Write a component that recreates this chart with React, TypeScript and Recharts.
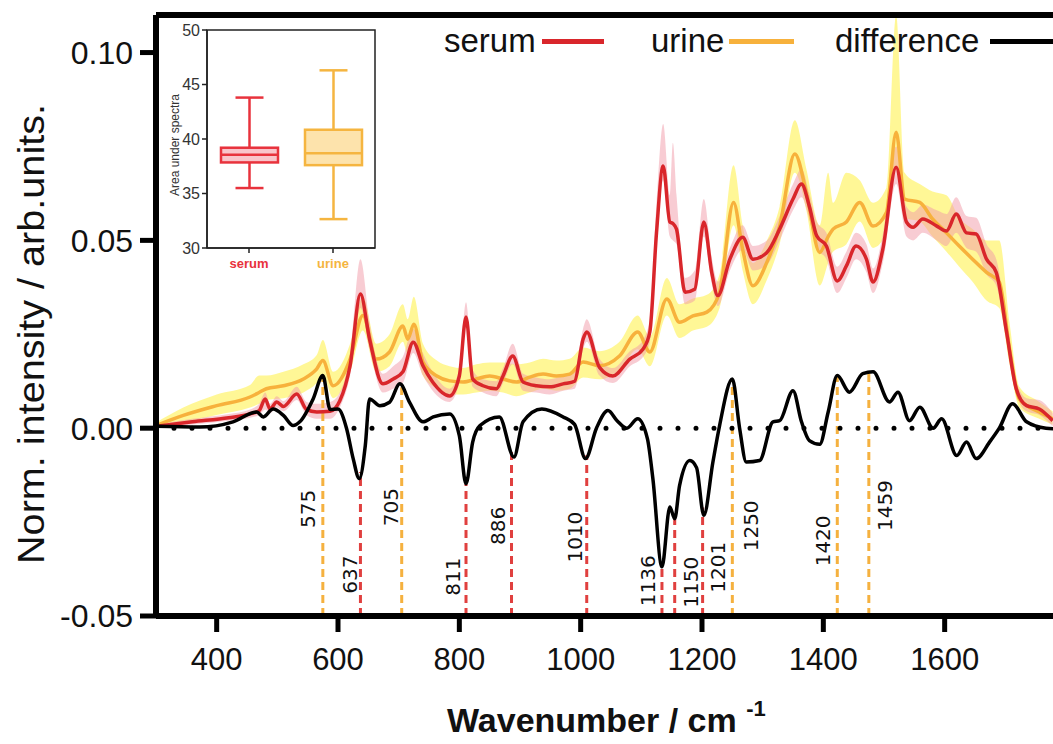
import React from 'react';
import {
  ComposedChart,
  Line,
  Area,
  Bar,
  XAxis,
  YAxis,
  ReferenceLine,
  ReferenceDot,
  ReferenceArea,
} from 'recharts';

// ---------------- DATA ----------------
const xTicks = [400, 600, 800, 1000, 1200, 1400, 1600];
const yTicks = [-0.05, 0, 0.05, 0.1];

const serumWn = [300, 360, 420, 455, 470, 480, 488, 499, 510, 532, 548, 565, 587, 603, 620, 637, 652, 674, 691, 707, 724, 740, 756, 784, 800, 811, 822, 839, 861, 872, 888, 905, 927, 949, 971, 990, 1004, 1010, 1031, 1053, 1081, 1103, 1114, 1125, 1136, 1147, 1152, 1158, 1172, 1188, 1203, 1216, 1226, 1246, 1267, 1284, 1307, 1328, 1350, 1364, 1377, 1389, 1405, 1423, 1438, 1454, 1471, 1482, 1498, 1520, 1537, 1548, 1564, 1587, 1603, 1619, 1636, 1652, 1669, 1685, 1702, 1718, 1735, 1756, 1778];
const serumMean = [0.0005, 0.0017, 0.0028, 0.0038, 0.0047, 0.0078, 0.0051, 0.007, 0.0058, 0.0091, 0.005, 0.0043, 0.0045, 0.0073, 0.0167, 0.0357, 0.0237, 0.0118, 0.0131, 0.015, 0.0229, 0.0166, 0.0123, 0.0086, 0.0139, 0.0296, 0.0131, 0.0113, 0.0105, 0.0139, 0.0192, 0.0123, 0.0113, 0.011, 0.0118, 0.0125, 0.0237, 0.0256, 0.0162, 0.0139, 0.0184, 0.0211, 0.0256, 0.052, 0.0698, 0.0549, 0.0545, 0.053, 0.0362, 0.037, 0.0549, 0.0415, 0.0353, 0.045, 0.0508, 0.045, 0.0468, 0.053, 0.061, 0.065, 0.059, 0.0512, 0.0485, 0.0392, 0.0432, 0.0485, 0.045, 0.0389, 0.0476, 0.0695, 0.0549, 0.0535, 0.0557, 0.0538, 0.0525, 0.057, 0.052, 0.0517, 0.045, 0.0415, 0.0256, 0.0105, 0.006, 0.0051, 0.002];
const serumLow = [0.0, 0.001, 0.002, 0.0028, 0.0035, 0.005, 0.004, 0.0055, 0.0045, 0.0075, 0.0035, 0.0025, 0.0025, 0.0055, 0.014, 0.032, 0.021, 0.0095, 0.0105, 0.012, 0.02, 0.014, 0.01, 0.007, 0.012, 0.027, 0.011, 0.0095, 0.0085, 0.012, 0.017, 0.01, 0.0095, 0.009, 0.01, 0.0105, 0.021, 0.023, 0.014, 0.012, 0.0165, 0.019, 0.023, 0.048, 0.066, 0.051, 0.05, 0.049, 0.033, 0.034, 0.051, 0.0385, 0.0325, 0.042, 0.0475, 0.042, 0.0435, 0.05, 0.058, 0.0615, 0.0555, 0.048, 0.045, 0.036, 0.04, 0.045, 0.0415, 0.036, 0.044, 0.065, 0.051, 0.05, 0.052, 0.05, 0.0485, 0.052, 0.048, 0.047, 0.041, 0.038, 0.023, 0.009, 0.0045, 0.0035, 0.0005];
const serumHigh = [0.001, 0.0025, 0.0038, 0.005, 0.0065, 0.0095, 0.0065, 0.0085, 0.0072, 0.011, 0.007, 0.0065, 0.007, 0.0095, 0.02, 0.045, 0.028, 0.0145, 0.0165, 0.019, 0.0265, 0.02, 0.015, 0.0105, 0.016, 0.0335, 0.0155, 0.013, 0.0125, 0.016, 0.0225, 0.0145, 0.0135, 0.013, 0.014, 0.015, 0.0265, 0.029, 0.0185, 0.016, 0.0205, 0.0235, 0.029, 0.06, 0.081, 0.062, 0.076, 0.062, 0.04, 0.042, 0.061, 0.0455, 0.039, 0.048, 0.054, 0.0485, 0.05, 0.0565, 0.065, 0.069, 0.0625, 0.055, 0.052, 0.043, 0.047, 0.052, 0.049, 0.0425, 0.0515, 0.075, 0.059, 0.0575, 0.0595, 0.058, 0.057, 0.0615, 0.0565, 0.056, 0.049, 0.045, 0.029, 0.0125, 0.008, 0.0075, 0.004];

const urineWn = [300, 345, 400, 455, 470, 482, 510, 543, 565, 575, 592, 620, 641, 663, 685, 707, 715, 725, 740, 763, 784, 806, 828, 850, 872, 894, 916, 938, 960, 982, 1004, 1031, 1064, 1094, 1114, 1142, 1163, 1185, 1208, 1229, 1252, 1267, 1284, 1307, 1328, 1353, 1372, 1394, 1408, 1416, 1438, 1460, 1482, 1504, 1520, 1534, 1559, 1580, 1603, 1624, 1646, 1669, 1690, 1707, 1723, 1756, 1778];
const urineMean = [0.0007, 0.0034, 0.006, 0.0083, 0.0095, 0.0105, 0.0113, 0.0131, 0.0158, 0.018, 0.0113, 0.0184, 0.03, 0.0184, 0.0203, 0.0272, 0.0237, 0.0277, 0.0176, 0.0139, 0.0126, 0.0123, 0.0131, 0.0139, 0.0131, 0.0123, 0.0136, 0.0144, 0.0139, 0.0144, 0.0176, 0.0166, 0.0192, 0.0256, 0.0203, 0.0344, 0.0282, 0.0299, 0.0309, 0.0362, 0.0601, 0.0476, 0.0379, 0.0442, 0.0538, 0.073, 0.0628, 0.0468, 0.051, 0.053, 0.0549, 0.0601, 0.0538, 0.0574, 0.0788, 0.061, 0.0601, 0.0557, 0.052, 0.0485, 0.045, 0.0415, 0.0389, 0.0211, 0.0078, 0.0043, 0.0025];
const urineLow = [0.0, 0.0015, 0.0035, 0.0055, 0.0065, 0.0075, 0.008, 0.0095, 0.012, 0.014, 0.008, 0.015, 0.026, 0.015, 0.0165, 0.023, 0.0195, 0.0235, 0.014, 0.0105, 0.009, 0.009, 0.0095, 0.01, 0.0095, 0.0085, 0.0095, 0.0105, 0.01, 0.0105, 0.0135, 0.013, 0.0155, 0.021, 0.0165, 0.03, 0.024, 0.026, 0.027, 0.032, 0.054, 0.042, 0.033, 0.0395, 0.049, 0.068, 0.058, 0.038, 0.044, 0.047, 0.049, 0.055, 0.048, 0.052, 0.07, 0.056, 0.055, 0.051, 0.047, 0.043, 0.039, 0.034, 0.032, 0.017, 0.0055, 0.0025, 0.001];
const urineHigh = [0.0015, 0.0055, 0.009, 0.0115, 0.014, 0.014, 0.015, 0.017, 0.0195, 0.0235, 0.015, 0.0225, 0.035, 0.0225, 0.025, 0.033, 0.029, 0.035, 0.0225, 0.018, 0.0165, 0.016, 0.017, 0.0175, 0.0175, 0.017, 0.0175, 0.0185, 0.018, 0.0185, 0.0215, 0.0205, 0.023, 0.03, 0.0245, 0.04, 0.033, 0.0345, 0.0355, 0.041, 0.07, 0.054, 0.044, 0.05, 0.059, 0.082, 0.069, 0.054, 0.068, 0.06, 0.068, 0.066, 0.06, 0.064, 0.11, 0.068, 0.065, 0.063, 0.062, 0.056, 0.053, 0.05, 0.05, 0.028, 0.011, 0.007, 0.0045];

const diffWn = [300, 372, 427, 466, 477, 493, 510, 526, 537, 559, 575, 587, 600, 614, 625, 635, 645, 652, 669, 685, 702, 718, 740, 757, 784, 800, 811, 822, 834, 866, 890, 905, 936, 971, 990, 1008, 1026, 1045, 1060, 1076, 1094, 1110, 1119, 1134, 1147, 1155, 1163, 1180, 1191, 1203, 1218, 1229, 1250, 1262, 1273, 1295, 1317, 1328, 1350, 1364, 1377, 1394, 1408, 1423, 1443, 1465, 1482, 1509, 1523, 1542, 1559, 1581, 1595, 1620, 1636, 1652, 1674, 1690, 1712, 1735, 1767, 1790];
const diffVal = [0.0005, 0.0003, 0.0017, 0.0043, 0.003, 0.0051, 0.0034, 0.0007, 0.0017, 0.0078, 0.014, 0.005, 0.0051, 0.0, -0.0081, -0.0134, -0.0046, 0.0078, 0.006, 0.0069, 0.0118, 0.0069, 0.0017, 0.003, 0.0038, -0.002, -0.0148, -0.0037, 0.0007, 0.003, -0.0077, 0.0017, 0.0051, 0.003, 0.001, -0.0081, 0.0, 0.0047, 0.002, 0.0, 0.0025, -0.0028, -0.0134, -0.0369, -0.021, -0.0241, -0.0153, -0.0086, -0.0105, -0.0232, -0.009, 0.0007, 0.0131, 0.0, -0.009, -0.0086, 0.0017, 0.002, 0.01, 0.0017, -0.0033, -0.0043, 0.0043, 0.014, 0.0096, 0.0145, 0.015, 0.007, 0.0096, 0.002, 0.0056, 0.0, 0.0025, -0.0073, -0.0037, -0.0081, -0.0037, 0.0, 0.0065, 0.0017, 0.0, -0.0002];

const markerWn = [575, 637, 705, 811, 886, 1010, 1134, 1155, 1201, 1250, 1423, 1475];
const markerLabels = ['575', '637', '705', '811', '886', '1010', '1136', '1150', '1201', '1250', '1420', '1459'];
const markerGroup = ['urine', 'serum', 'urine', 'serum', 'serum', 'serum', 'serum', 'serum', 'serum', 'urine', 'urine', 'urine'];

const boxCategories = ['serum', 'urine'];
const boxMin = [35.5, 32.65];
const boxQ1 = [37.85, 37.6];
const boxMedian = [38.55, 38.7];
const boxQ3 = [39.2, 40.85];
const boxMax = [43.8, 46.3];
const insetTicks = [30, 35, 40, 45, 50];

// ---------------- LAYOUT / STYLE ----------------
const FONT = '"Liberation Sans", Arial, Helvetica, sans-serif';
const SERUM_LINE = '#d9262b';
const SERUM_BAND = '#f29aa8';
const URINE_LINE = '#f7b13c';
const URINE_BAND = '#fff25e';
const MARK_RED = '#e0403f';
const MARK_ORANGE = '#f5b13f';
const markerLabelY = [-0.0215, -0.039, -0.021, -0.0395, -0.026, -0.029, -0.0406, -0.041, -0.037, -0.026, -0.03, -0.0206];
const markerLabelDx = [-15, -10, -11, -13, -14, -12, -14, 16, 15, 19, -14, 16];
const BOX_STYLE: Record<string, { stroke: string; fill: string }> = {
  serum: { stroke: '#e8323c', fill: '#f9c4ca' },
  urine: { stroke: '#f5b540', fill: '#fde3ac' },
};

// ---------------- DERIVED TABLES ----------------
const serumLine = serumWn.map((wn, i) => ({ wn, v: serumMean[i] }));
const serumBand = serumWn.map((wn, i) => ({ wn, band: [serumLow[i], serumHigh[i]] }));
const urineLine = urineWn.map((wn, i) => ({ wn, v: urineMean[i] }));
const urineBand = urineWn.map((wn, i) => ({ wn, band: [urineLow[i], urineHigh[i]] }));
const diffLine = diffWn.map((wn, i) => ({ wn, v: diffVal[i] }));
const boxRows = boxCategories.map((name, i) => ({
  name,
  range: [boxMin[i], boxMax[i]],
  q1: boxQ1[i],
  med: boxMedian[i],
  q3: boxQ3[i],
}));

const diffAt = (wn: number) => {
  for (let i = 0; i < diffWn.length - 1; i++) {
    if (wn >= diffWn[i] && wn <= diffWn[i + 1]) {
      const t = (wn - diffWn[i]) / (diffWn[i + 1] - diffWn[i]);
      return diffVal[i] + t * (diffVal[i + 1] - diffVal[i]);
    }
  }
  return 0;
};

const BoxShape = (p: any) => {
  const { x, y, width, height, payload } = p;
  const [lo, hi] = payload.range;
  const top = Math.min(y, y + height);
  const h = Math.abs(height);
  const k = h / (hi - lo);
  const py = (v: number) => top + (hi - v) * k;
  const cx = x + width / 2;
  const st = BOX_STYLE[payload.name];
  const cap = 28;
  const sw = 2.5;
  return (
    <g>
      <line x1={cx} x2={cx} y1={py(hi)} y2={py(payload.q3)} stroke={st.stroke} strokeWidth={sw} />
      <line x1={cx} x2={cx} y1={py(payload.q1)} y2={py(lo)} stroke={st.stroke} strokeWidth={sw} />
      <line x1={cx - cap / 2} x2={cx + cap / 2} y1={py(hi)} y2={py(hi)} stroke={st.stroke} strokeWidth={sw} />
      <line x1={cx - cap / 2} x2={cx + cap / 2} y1={py(lo)} y2={py(lo)} stroke={st.stroke} strokeWidth={sw} />
      <rect x={x} y={py(payload.q3)} width={width} height={py(payload.q1) - py(payload.q3)} fill={st.fill} stroke={st.stroke} strokeWidth={sw} />
      <line x1={x} x2={x + width} y1={py(payload.med)} y2={py(payload.med)} stroke={st.stroke} strokeWidth={sw} />
    </g>
  );
};

const InsetXTick = (p: any) => {
  const { x, y, payload } = p;
  return (
    <text x={x} y={y} dy="0.71em" textAnchor="middle" fontFamily={FONT} fontSize={13} fontWeight="bold" fill={BOX_STYLE[payload.value].stroke}>
      {payload.value}
    </text>
  );
};

const textBase: React.CSSProperties = {
  position: 'absolute',
  fontFamily: FONT,
  color: '#111',
  whiteSpace: 'nowrap',
  lineHeight: 1,
};

export default function App() {
  return (
    <div style={{ position: 'absolute', left: 0, top: 0, width: 1053, height: 744, overflow: 'hidden', background: '#fff' }}>
      <ComposedChart width={1100} height={744} margin={{ top: 15, right: 34, left: 56, bottom: 68 }}>
        <XAxis
          dataKey="wn"
          type="number"
          domain={[300, 1800]}
          ticks={xTicks}
          allowDataOverflow
          height={60}
          tickSize={16}
          tickMargin={16}
          axisLine={{ stroke: '#000', strokeWidth: 6 }}
          tickLine={{ stroke: '#000', strokeWidth: 5 }}
          tick={{ fontSize: 31, fill: '#111', fontFamily: FONT }}
        />
        <YAxis
          type="number"
          domain={[-0.05, 0.11]}
          ticks={yTicks}
          allowDataOverflow
          width={100}
          tickSize={16}
          tickMargin={7}
          tickFormatter={(v: number) => v.toFixed(2)}
          axisLine={{ stroke: '#000', strokeWidth: 6 }}
          tickLine={{ stroke: '#000', strokeWidth: 5 }}
          tick={{ fontSize: 32, fill: '#111', fontFamily: FONT }}
        />
        <ReferenceLine y={0.11} stroke="#000" strokeWidth={6} />
        <Area data={urineBand} dataKey="band" type="monotone" stroke="none" fill={URINE_BAND} fillOpacity={0.65} isAnimationActive={false} />
        <Area data={serumBand} dataKey="band" type="monotone" stroke="none" fill={SERUM_BAND} fillOpacity={0.5} isAnimationActive={false} />
        {markerWn.map((wn, i) => (
          <ReferenceLine
            key={'m' + i}
            segment={[{ x: wn, y: -0.05 }, { x: wn, y: diffAt(wn) }]}
            stroke={markerGroup[i] === 'serum' ? MARK_RED : MARK_ORANGE}
            strokeWidth={3}
            strokeDasharray="8 5"
          />
        ))}
        <ReferenceLine y={0} stroke="#000" strokeWidth={5} strokeDasharray="0 18" strokeLinecap="round" />
        <Line data={urineLine} dataKey="v" type="monotone" stroke={URINE_LINE} strokeWidth={3.5} dot={false} activeDot={false} isAnimationActive={false} />
        <Line data={serumLine} dataKey="v" type="monotone" stroke={SERUM_LINE} strokeWidth={3.5} dot={false} activeDot={false} isAnimationActive={false} />
        <Line data={diffLine} dataKey="v" type="monotone" stroke="#000" strokeWidth={3.5} dot={false} activeDot={false} isAnimationActive={false} />
        {markerWn.map((wn, i) => (
          <ReferenceDot
            key={'l' + i}
            x={wn}
            y={markerLabelY[i]}
            r={0}
            shape={(p: any) => {
              const tx = p.cx + markerLabelDx[i];
              return (
                <text
                  x={tx}
                  y={p.cy}
                  transform={`rotate(-90 ${tx} ${p.cy})`}
                  textAnchor="middle"
                  dominantBaseline="central"
                  fontFamily='"DejaVu Sans", sans-serif'
                  fontSize={20}
                  fill="#111"
                >
                  {markerLabels[i]}
                </text>
              );
            }}
          />
        ))}
      </ComposedChart>

      {/* inset box plot */}
      <div style={{ position: 'absolute', left: 160, top: 20 }}>
        <ComposedChart width={230} height={265} data={boxRows} margin={{ top: 10, right: 15, left: 11, bottom: 10 }}>
          <XAxis
            dataKey="name"
            type="category"
            height={27}
            tickSize={5}
            tickMargin={6}
            axisLine={{ stroke: '#222', strokeWidth: 1.5 }}
            tickLine={{ stroke: '#222', strokeWidth: 1.5 }}
            tick={<InsetXTick />}
          />
          <YAxis
            type="number"
            domain={[30, 50]}
            ticks={insetTicks}
            width={36}
            tickSize={5}
            tickMargin={2}
            axisLine={{ stroke: '#222', strokeWidth: 1.5 }}
            tickLine={{ stroke: '#222', strokeWidth: 1.5 }}
            tick={{ fontSize: 16, fill: '#333', fontFamily: FONT }}
          />
          <ReferenceArea y1={30} y2={50} fill="none" stroke="#222" strokeWidth={1.5} />
          <Bar dataKey="range" barSize={57} shape={<BoxShape />} isAnimationActive={false} />
        </ComposedChart>
      </div>
      <div style={{ ...textBase, left: 175, top: 145, fontSize: 12, color: '#333', transform: 'translate(-50%, -50%) rotate(-90deg)' }}>
        Area under spectra
      </div>

      {/* axis titles */}
      <div style={{ ...textBase, left: 32, top: 334, fontSize: 36, transform: 'translate(-50%, -50%) rotate(-90deg) scale(1.1, 1)' }}>
        Norm. intensity / arb.units.
      </div>
      <div style={{ ...textBase, left: 447, top: 703, fontSize: 34, fontWeight: 'bold' }}>
        Wavenumber / cm <span style={{ fontSize: 22, position: 'relative', top: -16 }}>-1</span>
      </div>

      {/* legend */}
      <div style={{ ...textBase, left: 444, top: 24, fontSize: 33 }}>serum</div>
      <div style={{ position: 'absolute', left: 542, top: 39, width: 62, height: 5, background: SERUM_LINE }} />
      <div style={{ ...textBase, left: 651, top: 24, fontSize: 33 }}>urine</div>
      <div style={{ position: 'absolute', left: 729, top: 39, width: 65, height: 5, background: URINE_LINE }} />
      <div style={{ ...textBase, left: 835, top: 24, fontSize: 33 }}>difference</div>
      <div style={{ position: 'absolute', left: 990, top: 39, width: 70, height: 5, background: '#000' }} />
    </div>
  );
}
